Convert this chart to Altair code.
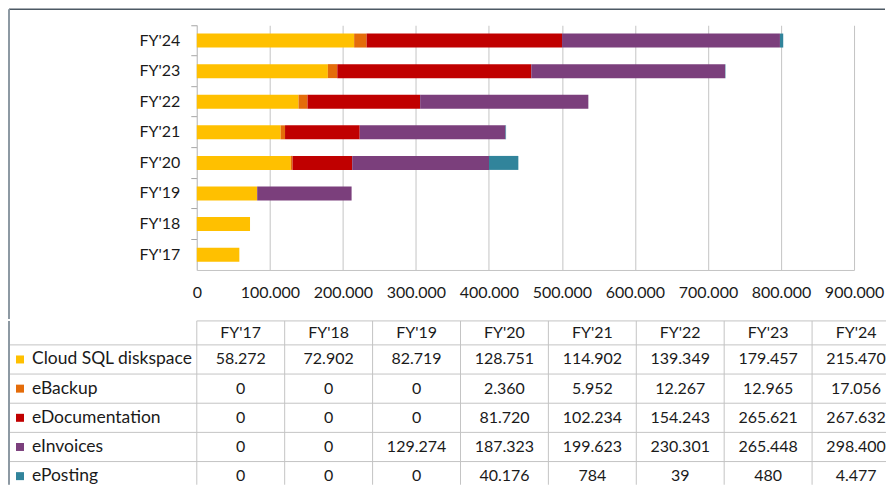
import altair as alt
import pandas as pd

years = ["FY'17", "FY'18", "FY'19", "FY'20", "FY'21", "FY'22", "FY'23", "FY'24"]
series = ["Cloud SQL diskspace", "eBackup", "eDocumentation", "eInvoices", "ePosting"]
colors = ["#FFC000", "#E46C0A", "#C00000", "#7B3F7C", "#31849B"]

cloud_sql = [58272, 72902, 82719, 128751, 114902, 139349, 179457, 215470]
ebackup = [0, 0, 0, 2360, 5952, 12267, 12965, 17056]
edocumentation = [0, 0, 0, 81720, 102234, 154243, 265621, 267632]
einvoices = [0, 0, 129274, 187323, 199623, 230301, 265448, 298400]
eposting = [0, 0, 0, 40176, 784, 39, 480, 4477]

x_ticks = [0, 100000, 200000, 300000, 400000, 500000, 600000, 700000, 800000, 900000]

all_vals = [cloud_sql, ebackup, edocumentation, einvoices, eposting]
rows = []
for i, (s, vals) in enumerate(zip(series, all_vals)):
    for y, v in zip(years, vals):
        rows.append({"series": s, "year": y, "value": v, "idx": i})
df = pd.DataFrame(rows)
years_df = pd.DataFrame({"year": years})
series_df = pd.DataFrame({"series": series})
one = pd.DataFrame({"a": [0]})

FONT = "Lato"
TXT = "#1a1a1a"
GRID = "#c4c4c4"
FRAME_TOP = "#4d5964"
FRAME_LEFT = "#8d99a3"
fmt = "replace(format(datum.value, ','), ',', '.')"

BW, BH = 658, 245
color_scale = alt.Scale(domain=series, range=colors)

bars = alt.Chart(df).mark_bar(size=14).encode(
    x=alt.X("value:Q", stack="zero",
            scale=alt.Scale(domain=[0, 900000], nice=False),
            axis=alt.Axis(values=x_ticks, labelExpr=fmt, title=None, ticks=False,
                          grid=True, gridColor=GRID, domainColor=GRID,
                          labelFontSize=16, labelFont=FONT, labelColor=TXT,
                          labelPadding=15, labelOverlap=False, labelFlush=False)),
    y=alt.Y("year:N", sort=years[::-1],
            scale=alt.Scale(paddingInner=0, paddingOuter=0),
            axis=alt.Axis(title=None, bandPosition=0, tickSize=6, tickColor="#a6a6a6",
                          domainColor=GRID, labelFontSize=16, labelFont=FONT,
                          labelColor=TXT, labelPadding=11)),
    color=alt.Color("series:N", scale=color_scale, legend=None),
    order=alt.Order("idx:Q"),
)

frame_top = alt.Chart(one).mark_rule(color=FRAME_TOP, strokeWidth=1.5).encode(
    x=alt.value(-188), x2=alt.value(689), y=alt.value(-16))
frame_left1 = alt.Chart(one).mark_rule(color=FRAME_LEFT, strokeWidth=2).encode(
    x=alt.value(-188), y=alt.value(-16), y2=alt.value(294))

top = alt.layer(frame_top, frame_left1, bars).properties(width=BW, height=BH)

TW, TH = 690, 140
COL_RANGE = [0, 704]
ROW_RANGE = [0, 146]

xs = alt.X("year:N", sort=years,
           scale=alt.Scale(paddingInner=0, paddingOuter=0, range=COL_RANGE), axis=None)
ys = alt.Y("series:N", sort=series,
           scale=alt.Scale(paddingInner=0, paddingOuter=0, range=ROW_RANGE), axis=None)

cells = alt.Chart(df).transform_calculate(
    label="replace(format(datum.value, ','), ',', '.')"
).mark_text(font=FONT, fontSize=16, color=TXT, baseline="middle", clip=True).encode(
    x=xs, y=ys, text="label:N")

header = alt.Chart(years_df).mark_text(font=FONT, fontSize=16, color=TXT, baseline="middle",
                                       clip=False).encode(
    x=xs, y=alt.value(-12), text="year:N")

vlines = alt.Chart(years_df).mark_rule(color=GRID, strokeWidth=1, clip=False).encode(
    x=alt.X("year:N", sort=years, bandPosition=0,
            scale=alt.Scale(paddingInner=0, paddingOuter=0, range=COL_RANGE), axis=None),
    y=alt.value(-24), y2=alt.value(TH))

hlines = alt.Chart(series_df).mark_rule(color=GRID, strokeWidth=1).encode(
    y=alt.Y("series:N", sort=series, bandPosition=0,
            scale=alt.Scale(paddingInner=0, paddingOuter=0, range=ROW_RANGE), axis=None),
    x=alt.value(-188), x2=alt.value(TW))

head_line = alt.Chart(one).mark_rule(color=GRID, strokeWidth=1).encode(
    x=alt.value(0), x2=alt.value(TW), y=alt.value(-24))

labels = alt.Chart(series_df).mark_text(font=FONT, fontSize=17.5, color=TXT, align="left",
                                        baseline="middle").encode(
    x=alt.value(-165), y=ys, text="series:N")

swatches = alt.Chart(series_df).mark_square(size=64, opacity=1).encode(
    x=alt.value(-177), y=ys,
    color=alt.Color("series:N", scale=color_scale, legend=None))

frame_left2 = alt.Chart(one).mark_rule(color=FRAME_LEFT, strokeWidth=2).encode(
    x=alt.value(-188), y=alt.value(-24), y2=alt.value(TH))

table = alt.layer(vlines, hlines, head_line, frame_left2, cells, header, labels, swatches).properties(
    width=TW, height=TH)

chart = alt.vconcat(top, table, spacing=0).properties(padding=0).configure_view(stroke=None)

chart.save("out.html", embed_options={"renderer": "svg", "actions": False})
